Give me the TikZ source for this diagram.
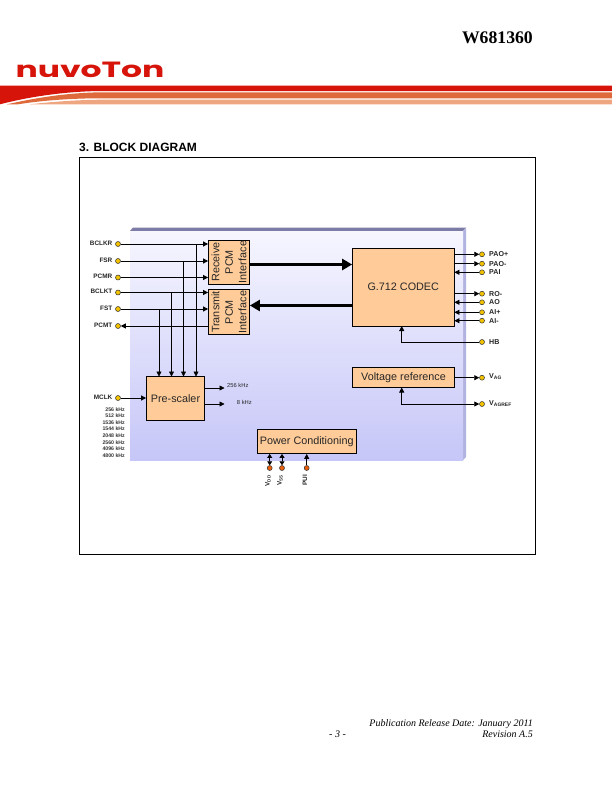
\documentclass[tikz,border=0pt]{standalone}
\usepackage{fontspec}
\setmainfont{Liberation Sans}
\newfontfamily\serifhead{Liberation Serif}
\newfontfamily\logofont{Poppins}
\usepackage{xcolor}
\usetikzlibrary{arrows.meta, positioning, calc, backgrounds}
\definecolor{blockfill}{HTML}{FFCC99}
\definecolor{pinY}{HTML}{F2C200}
\definecolor{pinO}{HTML}{E8600F}
\definecolor{panelTop}{HTML}{F6F6FF}
\definecolor{panelBot}{HTML}{C6C6F8}
\definecolor{panelEdge}{HTML}{7C7CA6}
\definecolor{panelSide}{HTML}{B2B2DE}
\definecolor{nuvoRed}{HTML}{D7140A}
\definecolor{bandO}{HTML}{DE693B}
\definecolor{bandL}{HTML}{EDA680}
\tikzset{
  block/.style={rectangle, draw=black, fill=blockfill, line width=0.8pt,
                inner sep=0pt, align=center, font=\fontsize{10.8}{13.4}\selectfont,
                text=black!85},
  pinY/.style={circle, draw=black!80, fill=pinY, line width=0.5pt,
               inner sep=0pt, minimum size=5pt},
  pinO/.style={circle, draw=black!80, fill=pinO, line width=0.5pt,
               inner sep=0pt, minimum size=5pt},
  pinL/.style={inner sep=0pt, font=\fontsize{6.4}{7}\selectfont\bfseries, text=black!85},
  pinR/.style={inner sep=0pt, anchor=west, font=\fontsize{7.1}{8}\selectfont\bfseries, text=black!85},
  freqL/.style={inner sep=0pt, anchor=east, font=\fontsize{5.2}{6}\selectfont\bfseries, text=black!80},
  sig/.style={draw=black, line width=0.8pt, -{Triangle[length=5pt,width=5pt]}},
  plain/.style={draw=black, line width=0.8pt},
  both/.style={draw=black, line width=0.8pt, {Triangle[length=4pt,width=5pt]}-{Triangle[length=4pt,width=5pt]}},
  bus/.style={draw=black, line width=3pt, -{Triangle[length=10pt,width=11pt]}},
}
\begin{document}
\begin{tikzpicture}[x=1pt, y=-1pt]
    \useasboundingbox (0,0) rectangle (612,792);
    %% Page header
    \node[inner sep=0pt, anchor=east, font=\fontsize{17.7}{18}\serifhead\bfseries] (part) at (533,37.5) {W681360};
    \node[inner sep=0pt, anchor=center, text=nuvoRed, xscale=1.5, font=\fontsize{22}{22}\logofont\bfseries] (logo) at (90,70) {nuvoTon};
    %% Banner
    \fill[bandL] (612,99.7) -- (100,99.7) .. controls (75,100) and (50,102) .. (30,104.3) -- (612,104.3) -- cycle;
    \fill[bandO] (612,92.3) -- (100,92.3) .. controls (65,93) and (35,98) .. (7,104.3) -- (18,104.3)
       .. controls (45,100) and (75,98.3) .. (100,98.3) -- (612,98.3) -- cycle;
    \fill[nuvoRed] (0,85.7) -- (612,85.7) -- (612,91) -- (100,91) .. controls (65,91.5) and (30,96.5) .. (0,104.3) -- cycle;
    %% Heading and frame
    \node[inner sep=0pt, anchor=base west, font=\fontsize{12}{13}\selectfont\bfseries] (head) at (79,151) {3. BLOCK DIAGRAM};
    \draw[black, line width=0.8pt] (79.5,157.5) rectangle (535.5,554);
    %% Panel
    \fill[panelEdge] (130,231) -- (133,227.5) -- (466,227.5) -- (463,231) -- cycle;
    \fill[panelSide] (463,231) -- (466,227.5) -- (466,457) -- (463,460) -- cycle;
    \shade[top color=panelTop, bottom color=panelBot] (130,231) rectangle (463,460);
    %% Blocks
    \node[block, rotate=90, minimum width=44pt, minimum height=41pt] (rx) at (229,262) {Receive\\PCM\\Interface};
    \node[block, rotate=90, minimum width=45pt, minimum height=41pt] (tx) at (229,312) {Transmit\\PCM\\Interface};
    \node[block, minimum width=101.5pt, minimum height=77.5pt] (codec) at (403.25,287.25) {G.712 CODEC};
    \node[block, minimum width=58pt, minimum height=44pt] (pre) at (175.5,398.5) {Pre-scaler};
    \node[block, minimum width=102pt, minimum height=20pt] (vref) at (403.5,377.5) {Voltage reference};
    \node[block, minimum width=98.5pt, minimum height=24pt] (pwr) at (306.75,441.5) {Power Conditioning};
    %% Left pins
    \foreach \n/\y/\lbl in {BCLKR/244/BCLKR,FSR/261/FSR,PCMR/277.5/PCMR,BCLKT/292.5/BCLKT,FST/309/FST,PCMT/326/PCMT,MCLK/398/MCLK}{
      \node[pinY] (p\n) at (118,\y) {};
      \node[pinL, anchor=east] (l\n) at (112.5,\y-1) {\lbl};
    }
    %% Right pins
    \foreach \n/\y/\lbl in {PAOp/254.3/PAO+,PAOm/263.7/PAO-,PAI/272.3/PAI,ROm/293.7/RO-,AO/302.3/AO,AIp/312.3/AI+,AIm/320.7/AI-,HB/342/HB}{
      \node[pinY] (p\n) at (482,\y) {};
      \node[pinR] (l\n) at (489,\y) {\lbl};
    }
    \node[pinY] (pVAG) at (482,377.7) {};
    \node[pinY] (pVREF) at (482,404) {};
    \node[pinR] (lVAG) at (489,377) {V\textsubscript{AG}};
    \node[pinR] (lVREF) at (489,404) {V\textsubscript{AGREF}};
    %% Supply pins
    \foreach \n/\x in {VDD/269.7,VSS/282,PUI/306.7}{
      \node[pinO] (p\n) at (\x,468) {};
    }
    \node[pinL, rotate=90, anchor=east] (lVDD) at (268,475) {V\textsubscript{DD}};
    \node[pinL, rotate=90, anchor=east] (lVSS) at (280,475) {V\textsubscript{SS}};
    \node[pinL, rotate=90, anchor=east] (lPUI) at (305,475) {PUI};
    %% Inputs to the PCM blocks
    \foreach \n/\b in {BCLKR/rx,FSR/rx,PCMR/rx,BCLKT/tx,FST/tx}{
      \draw[sig] (p\n) -- (p\n -| \b.north);
    }
    \draw[sig] (pPCMT -| tx.north) -- (pPCMT);
    %% Clocks into the pre-scaler
    \foreach \x/\n in {159/FST,171.5/BCLKT,183.5/FSR,196/BCLKR}{
      \coordinate (t\n) at (\x,376.5);
      \draw[sig] (p\n -| t\n) -- (t\n);
    }
    \draw[sig] (pMCLK) -- (pMCLK -| pre.west);
    \coordinate (o1) at (224.5,388);
    \coordinate (o2) at (224.5,404);
    \draw[sig] (o1 -| pre.east) -- (o1);
    \draw[sig] (o2 -| pre.east) -- (o2);
    \node[pinL, font=\fontsize{5.8}{6}\selectfont, anchor=west] (l256) at (227,385.7) {256 kHz};
    \node[pinL, font=\fontsize{5.8}{6}\selectfont, anchor=east] (l8) at (252,402) {8 kHz};
    %% Clock rates
    \foreach \y/\f in {409.7/256,415.7/512,422.3/1536,428.3/1544,435.7/2048,442.3/2560,448.7/4096,455.7/4800}{
      \node[freqL] at (125,\y) {\f{} kHz};
    }
    %% PCM buses
    \coordinate (b1) at (300,264.5);
    \coordinate (b2) at (300,305.5);
    \draw[bus] (b1 -| rx.south) -- (b1 -| codec.west);
    \draw[bus] (b2 -| codec.west) -- (b2 -| tx.south);
    %% Codec pins
    \foreach \n in {PAOp,PAOm,ROm}{
      \draw[sig] (p\n -| codec.east) -- (p\n);
    }
    \foreach \n in {PAI,AO,AIp,AIm}{
      \draw[sig] (p\n) -- (p\n -| codec.east);
    }
    \coordinate (hbx) at (401.7,326);
    \draw[sig] (pHB) -- (pHB -| hbx) -- (hbx);
    %% Voltage reference
    \draw[sig] (pVAG -| vref.east) -- (pVAG);
    \coordinate (vrx) at (401.7,387.5);
    \draw[plain, {Triangle[length=5pt,width=5pt]}-{Triangle[length=5pt,width=5pt]}] (vrx) -- (vrx |- pVREF) -- (pVREF);
    %% Supplies
    \draw[both] (pVDD) -- (pVDD |- pwr.south);
    \draw[both] (pVSS) -- (pVSS |- pwr.south);
    \draw[sig] (pPUI) -- (pPUI |- pwr.south);
    %% Page footer
    \node[inner sep=0pt, anchor=base east, font=\fontsize{10}{11}\serifhead\itshape] (date) at (533,726) {Publication Release Date: January 2011};
    \node[inner sep=0pt, anchor=base east, font=\fontsize{10}{11}\serifhead\itshape] (rev) at (533,737) {Revision A.5};
    \node[inner sep=0pt, anchor=base, font=\fontsize{10}{11}\serifhead\itshape] (pg) at (337.5,737) {- 3 -};
  \end{tikzpicture}
\end{document}
